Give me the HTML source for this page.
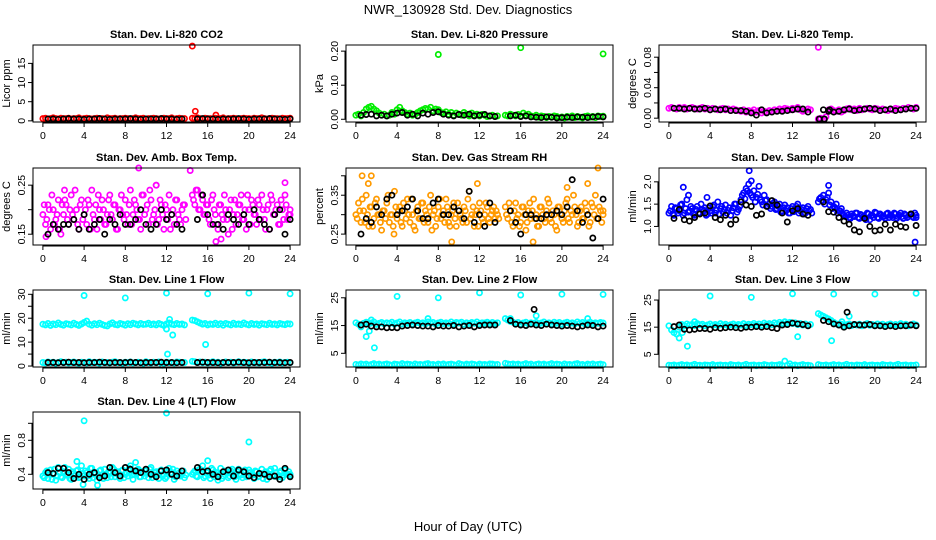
<!DOCTYPE html>
<html><head><meta charset="utf-8"><style>
html,body{margin:0;padding:0;background:#fff;}
svg{display:block;font-family:"Liberation Sans",Arial,sans-serif;}
</style></head><body>
<svg id="chart" width="936" height="540" viewBox="0 0 936 540">
<text x="468" y="14" text-anchor="middle" font-size="13">NWR_130928  Std. Dev. Diagnostics</text>
<text x="468" y="531" text-anchor="middle" font-size="13">Hour of Day (UTC)</text>
</svg>
<script>
// ---- data ----
const xTicks=[0,4,8,12,16,20,24];
const co2C=[0.6,0.7,0.5,0.6,0.8,0.6,0.5,0.7,0.6,0.6,0.7,0.5,0.6,0.6,0.8,0.5,0.6,0.7,0.6,0.5,0.6,0.7,0.6,0.6,0.5,0.8,0.6,0.6,0.7,0.5,0.6,0.6,0.7,0.6,0.5,0.6,0.8,0.6,0.6,0.7,0.5,0.6,0.6,0.7,0.6,0.5,0.6,0.7,0.6,0.6,0.8,0.5,0.6,0.7,0.6,0.6,
0.7,0.6,0.8,0.6,0.5,0.7,0.6,0.6,0.5,0.7,0.6,0.6,0.8,0.5,0.6,0.6,0.7,0.6,0.5,0.6,0.7,0.6,0.6,0.5,0.7,0.6,0.6,0.8,0.6,0.5,0.6,0.7,0.6,0.6,0.5,0.7,0.6,0.6,0.7];
const co2K=[0.5,0.5,0.4,0.5,0.6,0.5,0.5,0.4,0.5,0.5,0.6,0.5,0.4,0.5,0.5,0.5,0.6,0.5,0.4,0.5,0.5,0.5,0.6,0.5,0.5,0.4,0.5,
0.5,0.6,0.5,0.5,0.4,0.5,0.5,0.5,0.6,0.5,0.4,0.5,0.5,0.5,0.6,0.5,0.5,0.4,0.5];
const co2Out=[[14.5,19.5],[14.8,2.5],[16.8,1.5]];
const presC=[0.012,0.015,0.010,0.020,0.030,0.035,0.038,0.030,0.025,0.018,0.012,0.015,0.010,0.012,0.020,0.015,0.028,0.035,0.025,0.020,0.015,0.018,0.012,0.015,0.020,0.025,0.028,0.032,0.030,0.035,0.025,0.030,0.028,0.020,0.018,0.022,0.015,0.020,0.012,0.018,0.015,0.012,0.020,0.015,0.010,0.018,0.012,0.015,0.010,0.014,0.012,0.008,0.010,0.012,0.008,0.010,
0.012,0.010,0.015,0.012,0.010,0.014,0.010,0.018,0.012,0.015,0.010,0.008,0.012,0.006,0.010,0.008,0.005,0.008,0.006,0.010,0.008,0.005,0.007,0.004,0.008,0.006,0.010,0.005,0.008,0.006,0.004,0.008,0.010,0.006,0.008,0.005,0.010,0.008,0.009];
const presK=[0.012,0.014,0.015,0.010,0.012,0.010,0.015,0.018,0.020,0.012,0.015,0.010,0.018,0.015,0.020,0.022,0.015,0.012,0.010,0.014,0.012,0.015,0.010,0.012,0.014,0.010,0.008,
0.010,0.012,0.008,0.010,0.007,0.006,0.005,0.007,0.006,0.004,0.005,0.006,0.005,0.007,0.006,0.005,0.007,0.008,0.007];
const presOut=[[8,0.19],[16,0.21],[24,0.192]];
const tempC=[0.013,0.014,0.013,0.012,0.014,0.013,0.014,0.012,0.013,0.014,0.013,0.012,0.013,0.014,0.012,0.013,0.011,0.013,0.012,0.011,0.012,0.013,0.011,0.012,0.010,0.012,0.011,0.010,0.009,0.011,0.008,0.010,0.009,0.011,0.008,0.010,0.007,0.009,0.008,0.010,0.009,0.011,0.010,0.012,0.011,0.013,0.012,0.011,0.013,0.012,0.014,0.011,0.009,0.010,0.012,0.011,
-0.001,0.000,-0.001,0.002,0.011,0.012,0.010,0.009,0.011,0.008,0.010,0.012,0.013,0.011,0.012,0.010,0.013,0.011,0.012,0.013,0.012,0.011,0.013,0.012,0.010,0.012,0.011,0.010,0.012,0.011,0.013,0.012,0.011,0.013,0.012,0.014,0.013,0.012,0.014];
const tempK=[0.013,0.013,0.012,0.013,0.012,0.012,0.013,0.011,0.012,0.011,0.012,0.010,0.010,0.010,0.009,0.007,0.004,0.011,0.007,0.008,0.009,0.009,0.010,0.011,0.012,0.012,0.008,
0.011,0.009,0.008,0.009,0.011,0.012,0.010,0.011,0.012,0.013,0.012,0.010,0.011,0.012,0.010,0.011,0.012,0.013,0.013];
const tempOut=[[14.5,0.093]];
const tempKOut=[[14.6,-0.001],[15.1,-0.001],[15.6,0.011]];
const ambC=[0.19,0.17,0.21,0.16,0.20,0.18,0.22,0.15,0.19,0.21,0.17,0.23,0.18,0.20,0.16,0.22,0.19,0.17,0.21,0.24,0.18,0.16,0.20,0.22,0.17,0.19,0.23,0.18,0.21,0.16,0.20,0.19,0.22,0.17,0.24,0.19,0.21,0.18,0.16,0.23,0.20,0.17,0.22,0.19,0.25,0.18,0.21,0.16,0.20,0.23,0.19,0.17,0.22,0.18,0.20,0.21,
0.23,0.21,0.24,0.20,0.22,0.19,0.21,0.17,0.23,0.19,0.16,0.21,0.18,0.20,0.15,0.22,0.19,0.17,0.21,0.23,0.18,0.16,0.20,0.22,0.19,0.17,0.21,0.23,0.18,0.20,0.16,0.22,0.19,0.21,0.17,0.20,0.23,0.18,0.19];
const ambC2=[0.21,0.18,0.20,0.23,0.17,0.19,0.16,0.21,0.22,0.18,0.20,0.19,0.24,0.17,0.21,0.18,0.20,0.22,0.16,0.19,0.21,0.23,0.18,0.20,0.17,0.22,0.19,0.21,0.16,0.20,0.23,0.18,0.19,0.21,0.17,0.22,0.20,0.18,0.23,0.19,0.21,0.24,0.18,0.20,0.17,0.22,0.19,0.21,0.18,0.16,0.20,0.22,0.19,0.17,0.21,0.18,
0.22,0.24,0.20,0.23,0.19,0.21,0.18,0.22,0.20,0.17,0.21,0.19,0.23,0.18,0.20,0.16,0.22,0.19,0.21,0.18,0.20,0.23,0.17,0.21,0.19,0.22,0.18,0.20,0.16,0.21,0.23,0.19,0.20,0.17,0.22,0.18,0.21,0.19,0.20];
const ambK=[0.15,0.17,0.16,0.17,0.17,0.18,0.16,0.19,0.16,0.17,0.18,0.15,0.18,0.17,0.19,0.17,0.17,0.18,0.20,0.17,0.16,0.17,0.20,0.18,0.19,0.17,0.16,
0.18,0.23,0.19,0.17,0.17,0.16,0.19,0.18,0.17,0.19,0.17,0.20,0.18,0.17,0.16,0.19,0.20,0.15,0.18];
const ambOut=[[14.3,0.28],[9.3,0.285],[11,0.25],[0.3,0.145],[23.5,0.255],[2.1,0.24],[16.8,0.135],[17.3,0.14]];
const rhC=[0.30,0.33,0.28,0.31,0.35,0.27,0.32,0.29,0.34,0.30,0.26,0.31,0.33,0.28,0.30,0.36,0.29,0.32,0.27,0.31,0.34,0.28,0.30,0.26,0.32,0.29,0.33,0.31,0.28,0.35,0.30,0.27,0.32,0.29,0.31,0.34,0.28,0.30,0.33,0.27,0.31,0.29,0.32,0.28,0.36,0.30,0.27,0.31,0.33,0.29,0.30,0.32,0.28,0.31,0.29,0.30,
0.32,0.29,0.31,0.27,0.33,0.30,0.28,0.32,0.26,0.31,0.29,0.34,0.30,0.27,0.32,0.29,0.31,0.33,0.28,0.30,0.26,0.32,0.29,0.31,0.34,0.28,0.30,0.32,0.27,0.31,0.29,0.33,0.30,0.28,0.32,0.35,0.29,0.31,0.30];
const rhC2=[0.29,0.31,0.34,0.28,0.30,0.32,0.27,0.33,0.30,0.28,0.31,0.29,0.35,0.30,0.27,0.32,0.31,0.28,0.33,0.29,0.30,0.34,0.27,0.31,0.29,0.33,0.28,0.30,0.32,0.26,0.31,0.29,0.34,0.30,0.28,0.32,0.27,0.31,0.29,0.33,0.30,0.28,0.31,0.34,0.29,0.32,0.30,0.27,0.31,0.28,0.33,0.29,0.30,0.32,0.31,0.29,
0.30,0.33,0.28,0.31,0.29,0.27,0.32,0.30,0.28,0.33,0.31,0.29,0.27,0.32,0.30,0.28,0.34,0.29,0.31,0.27,0.32,0.30,0.28,0.33,0.29,0.31,0.35,0.30,0.28,0.32,0.29,0.31,0.27,0.33,0.30,0.29,0.32,0.28,0.31];
const rhK=[0.25,0.29,0.28,0.32,0.30,0.34,0.35,0.30,0.31,0.32,0.34,0.31,0.29,0.29,0.33,0.34,0.30,0.30,0.32,0.31,0.29,0.36,0.28,0.30,0.27,0.33,0.28,
0.31,0.28,0.25,0.30,0.30,0.29,0.29,0.30,0.30,0.31,0.30,0.32,0.39,0.31,0.28,0.30,0.24,0.29,0.34];
const rhOut=[[0.6,0.40],[1.2,0.38],[1.5,0.40],[11.8,0.38],[23.5,0.42],[17.2,0.23],[9.3,0.23],[3.7,0.25],[20.5,0.37],[22.5,0.38]];
const flowC=[1.30,1.45,1.25,1.40,1.35,1.50,1.30,1.60,1.35,1.40,1.25,1.45,1.30,1.38,1.42,1.28,1.35,1.45,1.30,1.55,1.40,1.32,1.48,1.36,1.25,1.42,1.50,1.38,1.60,1.75,1.85,1.95,1.70,1.80,1.65,1.90,1.55,1.70,1.60,1.50,1.45,1.55,1.40,1.50,1.35,1.48,1.42,1.30,1.45,1.38,1.50,1.35,1.42,1.30,1.45,1.38,
1.55,1.65,1.70,1.60,1.75,1.55,1.45,1.50,1.35,1.40,1.25,1.30,1.20,1.28,1.22,1.30,1.18,1.25,1.20,1.30,1.15,1.25,1.32,1.20,1.28,1.22,1.18,1.30,1.25,1.20,1.28,1.22,1.30,1.18,1.25,1.22,1.28,1.20,1.25];
const flowC2=[1.35,1.28,1.42,1.30,1.48,1.25,1.40,1.32,1.45,1.28,1.38,1.30,1.50,1.35,1.25,1.42,1.30,1.48,1.36,1.28,1.45,1.38,1.30,1.42,1.35,1.50,1.32,1.45,1.70,1.62,1.80,1.75,1.65,1.55,1.72,1.60,1.48,1.58,1.45,1.40,1.52,1.38,1.45,1.32,1.42,1.35,1.30,1.40,1.33,1.45,1.30,1.38,1.28,1.40,1.35,1.30,
1.62,1.58,1.50,1.65,1.48,1.40,1.42,1.30,1.35,1.28,1.22,1.25,1.18,1.24,1.30,1.20,1.27,1.22,1.15,1.28,1.24,1.20,1.30,1.18,1.25,1.22,1.28,1.20,1.24,1.30,1.18,1.25,1.22,1.28,1.20,1.26,1.22,1.30,1.20];
const flowK=[1.18,1.38,1.15,1.12,1.20,1.28,1.30,1.46,1.20,1.15,1.25,1.05,1.15,1.55,1.48,1.45,1.25,1.28,1.45,1.58,1.48,1.30,1.10,1.35,1.40,1.28,1.25,
1.55,1.33,1.32,1.20,1.12,1.05,0.92,0.88,1.18,1.00,0.90,0.92,1.05,0.92,1.05,1.00,0.98,1.28,1.02];
const flowOut=[[7.8,2.25],[23.9,0.65],[1.4,1.88],[8,2.02],[15.5,1.92],[1.9,1.7],[3.7,1.65]];
const l1A=[17.5,17.2,17.8,17.0,17.6,17.3,18.0,17.4,17.1,17.7,17.5,17.2,17.9,17.4,17.0,17.6,18.2,18.8,17.5,17.1,17.7,17.3,17.9,17.4,17.0,16.8,17.6,18.1,17.4,17.2,17.8,17.5,17.1,17.7,17.3,17.9,17.6,17.2,17.8,17.4,17.5,17.9,17.3,17.6,17.2,17.8,17.4,17.0,17.6,18.0,17.5,17.3,17.8,17.4,17.6,17.2,
19.2,19.0,18.5,18.0,17.5,17.8,17.2,17.6,17.4,17.9,17.3,17.7,17.1,17.8,17.5,17.2,17.9,17.4,17.6,17.3,18.0,17.5,17.2,17.8,17.4,17.6,17.1,17.7,17.5,17.3,17.9,17.4,17.6,17.2,17.8,17.5,17.3,17.7,17.6];
const l1B=[1.5,1.3,1.7,1.4,1.6,1.2,1.5,1.8,1.4,1.6,1.3,1.5,1.7,1.4,1.2,1.6,1.5,1.3,1.8,1.4,1.6,1.5,1.2,1.7,1.4,1.5,1.3,1.6,1.8,1.4,1.5,1.2,1.6,1.4,1.7,1.3,1.5,1.6,1.4,1.2,1.8,1.5,1.3,1.6,1.4,1.7,1.5,1.2,1.6,1.4,1.5,1.3,1.7,1.6,1.4,1.5,
2.0,1.8,1.5,1.7,1.4,1.6,1.3,1.5,1.8,1.4,1.6,1.2,1.5,1.7,1.4,1.6,1.3,1.5,1.8,1.4,1.6,1.5,1.2,1.7,1.4,1.5,1.3,1.6,1.8,1.4,1.5,1.2,1.6,1.4,1.7,1.3,1.5,1.6,1.4];
const l1K=[1.5,1.5,1.4,1.5,1.6,1.5,1.5,1.4,1.5,1.5,1.6,1.5,1.4,1.5,1.5,1.5,1.6,1.5,1.4,1.5,1.5,1.5,1.6,1.5,1.5,1.4,1.5,
1.5,1.6,1.5,1.5,1.4,1.5,1.5,1.5,1.6,1.5,1.4,1.5,1.5,1.5,1.6,1.5,1.5,1.4,1.5];
const l1Out=[[4,29.5],[8,28.5],[12,30.5],[16,30.2],[20,30.5],[24,30.2],[12,15.5],[12.3,19.5],[12.6,13],[12.1,5],[15.8,9],[11.6,0.3]];
const l2A=[16.0,15.5,14.5,15.8,16.2,15.6,15.9,16.3,15.4,15.8,16.1,15.6,16.0,15.7,16.2,15.5,15.9,16.3,15.6,16.0,15.8,16.1,15.5,15.9,16.2,15.7,16.0,15.6,16.3,15.8,16.1,15.5,15.9,16.2,15.7,16.0,15.8,16.3,15.6,16.1,15.9,16.2,15.5,16.0,15.7,16.1,15.8,16.3,15.6,16.0,15.9,16.2,15.7,16.1,15.8,16.0,
17.5,17.0,16.5,16.2,15.8,16.1,15.5,15.9,16.2,15.6,16.0,15.8,16.1,15.5,15.9,16.3,15.7,16.0,15.6,16.2,15.8,16.1,15.5,15.9,16.2,15.7,16.0,15.6,16.3,15.8,16.1,15.5,15.9,16.2,15.7,16.0,15.8,16.1,15.9];
const l2B=[1.0,0.8,1.2,0.9,1.1,0.7,1.0,1.3,0.9,1.1,0.8,1.0,1.2,0.9,0.7,1.1,1.0,0.8,1.3,0.9,1.1,1.0,0.7,1.2,0.9,1.0,0.8,1.1,1.3,0.9,1.0,0.7,1.1,0.9,1.2,0.8,1.0,1.1,0.9,0.7,1.3,1.0,0.8,1.1,0.9,1.2,1.0,0.7,1.1,0.9,1.0,0.8,1.2,1.1,0.9,1.0,
1.4,1.2,1.0,1.2,0.9,1.1,0.8,1.0,1.3,0.9,1.1,0.7,1.0,1.2,0.9,1.1,0.8,1.0,1.3,0.9,1.1,1.0,0.7,1.2,0.9,1.0,0.8,1.1,1.3,0.9,1.0,0.7,1.1,0.9,1.2,0.8,1.0,1.1,0.9];
const l2K=[15.2,15.5,14.8,14.5,14.5,14.2,14.3,14.2,14.8,15.0,15.2,15.0,14.8,14.8,14.5,15.0,14.8,14.8,15.0,14.5,14.8,15.0,14.5,15.0,15.2,15.2,15.2,
16.8,15.5,15.2,15.0,15.5,15.2,15.0,15.5,15.2,15.0,14.8,15.0,14.8,14.5,14.8,15.2,15.0,14.5,14.8];
const l2Out=[[4,25.5],[8,25],[12,26.8],[16,26],[20,26.3],[24,26.2],[1,11],[1.3,13],[1.5,17],[1.8,7],[15,17.5],[17.5,18.5],[7,17.5],[22.5,17.5]];
const l2KOut=[[17.3,20.8]];
const l3A=[15.5,14.0,13.0,12.5,15.0,16.0,15.5,16.2,15.8,16.0,15.6,16.3,15.9,16.1,15.5,15.8,16.2,15.7,16.0,15.6,16.3,15.8,16.1,15.5,15.9,16.2,15.7,16.0,15.8,16.3,15.6,16.1,15.9,16.4,15.8,16.2,15.7,16.5,16.0,16.3,15.9,16.6,16.2,16.8,16.4,17.0,16.5,16.8,16.3,16.6,16.0,16.4,15.8,16.2,15.6,16.0,
20.0,19.5,19.0,18.5,18.0,17.5,16.8,16.2,15.8,16.1,15.5,15.9,16.2,15.6,16.0,15.8,16.1,15.5,15.9,16.3,15.7,16.0,15.6,16.2,15.8,16.1,15.5,15.9,16.2,15.7,16.0,15.6,16.3,15.8,16.1,15.5,15.9,16.2,15.8];
const l3B=[1.0,0.9,1.1,0.8,1.0,1.2,0.9,1.1,0.8,1.0,1.3,0.9,1.0,0.8,1.1,1.0,0.9,1.2,0.8,1.0,1.1,0.9,1.0,0.8,1.2,1.0,0.9,1.1,0.8,1.0,1.3,0.9,1.0,1.1,0.8,1.0,0.9,1.2,1.0,0.8,1.1,0.9,1.0,1.2,0.8,2.5,1.0,1.5,0.9,1.1,0.8,1.0,1.2,0.9,1.0,0.8,
1.2,1.0,0.9,1.1,0.8,1.0,1.2,0.9,1.1,0.8,1.0,1.3,0.9,1.0,0.8,1.1,1.0,0.9,1.2,0.8,1.0,1.1,0.9,1.0,0.8,1.2,1.0,0.9,1.1,0.8,1.0,1.3,0.9,1.0,1.1,0.8,1.0,0.9,1.1];
const l3K=[15.2,15.8,14.2,14.0,14.2,14.5,14.5,14.2,14.8,14.6,14.8,15.0,14.8,14.6,15.0,15.0,15.2,15.0,15.2,14.8,14.5,15.8,16.0,16.5,16.2,16.0,15.5,
17.5,17.0,16.2,15.8,15.0,15.5,16.0,15.8,15.8,16.0,15.5,15.5,15.2,15.5,15.2,15.5,15.5,15.8,15.5];
const l3Out=[[4,26.5],[8,26],[12,27.3],[16,27.2],[20,27.2],[24,27.5],[1.8,8],[15.8,10],[12.5,11.5],[1,11],[1.3,13],[2.5,17],[16.8,17],[17.5,19]];
const l3KOut=[[17.3,20.5]];
const l4C=[0.38,0.42,0.35,0.45,0.40,0.33,0.48,0.37,0.43,0.39,0.46,0.34,0.41,0.44,0.36,0.50,0.38,0.42,0.35,0.47,0.40,0.33,0.44,0.39,0.46,0.36,0.41,0.48,0.37,0.43,0.35,0.45,0.40,0.38,0.50,0.34,0.42,0.46,0.37,0.41,0.44,0.36,0.48,0.39,0.43,0.35,0.45,0.40,0.37,0.47,0.42,0.34,0.44,0.39,0.41,0.36,
0.40,0.44,0.37,0.46,0.50,0.38,0.42,0.35,0.45,0.40,0.33,0.47,0.38,0.43,0.36,0.44,0.41,0.34,0.46,0.39,0.42,0.37,0.45,0.40,0.35,0.43,0.38,0.46,0.41,0.34,0.44,0.39,0.47,0.37,0.42,0.36,0.45,0.40,0.38];
const l4C2=[0.36,0.44,0.40,0.34,0.46,0.38,0.42,0.36,0.48,0.40,0.35,0.43,0.39,0.45,0.37,0.41,0.44,0.38,0.47,0.36,0.42,0.39,0.45,0.35,0.40,0.43,0.37,0.46,0.41,0.38,0.44,0.36,0.42,0.47,0.39,0.40,0.45,0.37,0.43,0.38,0.41,0.46,0.36,0.42,0.40,0.44,0.38,0.35,0.43,0.40,0.46,0.37,0.41,0.38,0.44,0.39,
0.42,0.38,0.45,0.40,0.36,0.44,0.39,0.47,0.37,0.42,0.40,0.35,0.44,0.41,0.38,0.46,0.37,0.43,0.40,0.36,0.45,0.38,0.42,0.39,0.44,0.37,0.41,0.35,0.43,0.40,0.46,0.38,0.42,0.37,0.44,0.39,0.41,0.43,0.40];
const l4K=[0.42,0.41,0.47,0.47,0.42,0.35,0.40,0.34,0.40,0.42,0.36,0.38,0.48,0.42,0.38,0.48,0.46,0.44,0.42,0.46,0.40,0.37,0.44,0.45,0.40,0.38,0.44,
0.48,0.43,0.44,0.40,0.37,0.43,0.45,0.38,0.45,0.43,0.38,0.36,0.41,0.40,0.37,0.38,0.34,0.47,0.37];
const l4Out=[[4,1.03],[12,1.12],[20,0.78],[3.3,0.55],[16,0.56],[9,0.54],[3.9,0.28],[5.3,0.27]];

// sampling grids (hours)
const hoursC=[];for(let t=0;t<=13.75;t+=0.25)hoursC.push(t);for(let t=14.5;t<=24.001;t+=0.25)hoursC.push(t);
const hoursC2=hoursC.map(h=>Math.min(h+0.125,24));
const hoursK=[];for(let t=0.5;t<=13.5;t+=0.5)hoursK.push(t);for(let t=15;t<=24.001;t+=0.5)hoursK.push(t);

// ---- layout ----
const NS='http://www.w3.org/2000/svg';
const svg=document.getElementById('chart');
const colX=[33,346,659], rowY=[45,168,290,412], PW=267, PH=77;
const XMIN=-0.96, XMAX=24.96;
function mk(tag,attrs,parent){const e=document.createElementNS(NS,tag);for(const k in attrs)e.setAttribute(k,attrs[k]);(parent||svg).appendChild(e);return e;}

const panels=[
 {title:'Stan. Dev. Li-820 CO2',ylab:'Licor ppm',ylim:[-0.3,19.8],yt:[0,5,10,15],yl:[0,5,10,15],fmt:v=>String(v),col:'#ff0000',series:[co2C],s2:[],k:co2K,out:co2Out,kout:[],r:0,c:0},
 {title:'Stan. Dev. Li-820 Pressure',ylab:'kPa',ylim:[-0.008,0.218],yt:[0,0.1,0.2],yl:[0,0.1,0.2],fmt:v=>v.toFixed(2),col:'#00ee00',series:[presC],s2:[],k:presK,out:presOut,kout:[],r:0,c:1},
 {title:'Stan. Dev. Li-820 Temp.',ylab:'degrees C',ylim:[-0.005,0.096],yt:[0,0.02,0.04,0.06,0.08],yl:[0,0.04,0.08],fmt:v=>v.toFixed(2),col:'#ff00ff',series:[tempC],s2:[],k:tempK,out:tempOut,kout:tempKOut,r:0,c:2},
 {title:'Stan. Dev. Amb. Box Temp.',ylab:'degrees C',ylim:[0.128,0.285],yt:[0.15,0.2,0.25],yl:[0.15,0.25],fmt:v=>v.toFixed(2),col:'#ff00ff',series:[ambC],s2:[ambC2],k:ambK,out:ambOut,kout:[],r:1,c:0},
 {title:'Stan. Dev. Gas Stream RH',ylab:'percent',ylim:[0.222,0.42],yt:[0.25,0.3,0.35,0.4],yl:[0.25,0.35],fmt:v=>v.toFixed(2),col:'#ff9a00',series:[rhC],s2:[rhC2],k:rhK,out:rhOut,kout:[],r:1,c:1},
 {title:'Stan. Dev. Sample Flow',ylab:'ml/min',ylim:[0.584,2.31],yt:[1,1.5,2],yl:[1,1.5,2],fmt:v=>v.toFixed(1),col:'#0000ff',series:[flowC],s2:[flowC2],k:flowK,out:flowOut,kout:[],r:1,c:2},
 {title:'Stan. Dev. Line 1 Flow',ylab:'ml/min',ylim:[-0.4,31.8],yt:[0,5,10,15,20,25,30],yl:[0,10,20,30],fmt:v=>String(v),col:'#00ffff',series:[l1A,l1B],s2:[],k:l1K,out:l1Out,kout:[],r:2,c:0},
 {title:'Stan. Dev. Line 2 Flow',ylab:'ml/min',ylim:[0.07,27.8],yt:[5,15,25],yl:[5,15,25],fmt:v=>String(v),col:'#00ffff',series:[l2A,l2B],s2:[],k:l2K,out:l2Out,kout:l2KOut,r:2,c:1},
 {title:'Stan. Dev. Line 3 Flow',ylab:'ml/min',ylim:[0.32,28.7],yt:[5,15,25],yl:[5,15,25],fmt:v=>String(v),col:'#00ffff',series:[l3A,l3B],s2:[],k:l3K,out:l3Out,kout:l3KOut,r:2,c:2},
 {title:'Stan. Dev. Line 4 (LT) Flow',ylab:'ml/min',ylim:[0.227,1.133],yt:[0.4,0.6,0.8,1.0],yl:[0.4,0.8],fmt:v=>v.toFixed(1),col:'#00ffff',series:[l4C],s2:[l4C2],k:l4K,out:l4Out,kout:[],r:3,c:0}
];

panels.forEach((p,pi)=>{
  const L=colX[p.c], T=rowY[p.r], B=T+PH, R=L+PW;
  const sx=v=>L+(v-XMIN)/(XMAX-XMIN)*PW;
  const sy=v=>B-(v-p.ylim[0])/(p.ylim[1]-p.ylim[0])*PH;
  const g=mk('g',{});
  
  
  const t=mk('text',{x:(L+R)/2,y:T-7,'text-anchor':'middle','font-size':'11','font-weight':'bold'},g);
  t.textContent=p.title;
  
  
  const yl=mk('text',{x:0,y:0,'text-anchor':'middle','font-size':'11',transform:`translate(${L-23},${(T+B)/2}) rotate(-90)`},g);
  yl.textContent=p.ylab;
  
  
  const pts=mk('g',{fill:'none'},g);
  
  
  p.series.forEach(arr=>{
    arr.forEach((v,i)=>{ if(i>=hoursC.length)return;
      const c=mk('circle',{cx:sx(hoursC[i]).toFixed(1),cy:sy(v).toFixed(1),r:2.6,stroke:p.col,'stroke-width':1.7},pts);
      
      
    });
  });
  p.s2.forEach(arr=>{
    arr.forEach((v,i)=>{ if(i>=hoursC2.length)return;
      const c=mk('circle',{cx:sx(hoursC2[i]).toFixed(1),cy:sy(v).toFixed(1),r:2.6,stroke:p.col,'stroke-width':1.7},pts);
      
      
    });
  });
  p.out.forEach(o=>{
    const c=mk('circle',{cx:sx(o[0]).toFixed(1),cy:sy(o[1]).toFixed(1),r:2.6,stroke:p.col,'stroke-width':1.7},pts);
    
    
  });
  p.k.forEach((v,i)=>{ if(i>=hoursK.length)return;
    const c=mk('circle',{cx:sx(hoursK[i]).toFixed(1),cy:sy(v).toFixed(1),r:2.6,stroke:'#000','stroke-width':1.7},pts);
    
    
  });
  p.kout.forEach(o=>{
    const c=mk('circle',{cx:sx(o[0]).toFixed(1),cy:sy(o[1]).toFixed(1),r:2.6,stroke:'#000','stroke-width':1.7},pts);
    
    
  });
  const box=mk('rect',{x:L,y:T,width:PW,height:PH,fill:'none',stroke:'#000','stroke-width':1},g);
  
  
  const xa=mk('g',{stroke:'#000','stroke-width':1},g);
  
  
  mk('line',{x1:sx(xTicks[0]),x2:sx(xTicks[xTicks.length-1]),y1:B+1,y2:B+1},xa);
  xTicks.forEach(v=>{
    mk('line',{x1:sx(v),x2:sx(v),y1:B,y2:B+5},xa);
    const tx=mk('text',{x:sx(v),y:B+17,'text-anchor':'middle','font-size':'10.5',stroke:'none'},g);
    tx.textContent=v;
    
    
  });
  const ya=mk('g',{stroke:'#000','stroke-width':1},g);
  
  
  mk('line',{x1:L-1,x2:L-1,y1:sy(p.yt[0]),y2:sy(p.yt[p.yt.length-1])},ya);
  p.yt.forEach(v=>{ mk('line',{x1:L-5,x2:L,y1:sy(v),y2:sy(v)},ya); });
  p.yl.forEach(v=>{
    const tx=mk('text',{x:0,y:0,'text-anchor':'middle','font-size':'10.5',transform:`translate(${L-8},${sy(v)}) rotate(-90)`},g);
    tx.textContent=p.fmt(v);
    
    
  });
});
</script>
</body></html>
